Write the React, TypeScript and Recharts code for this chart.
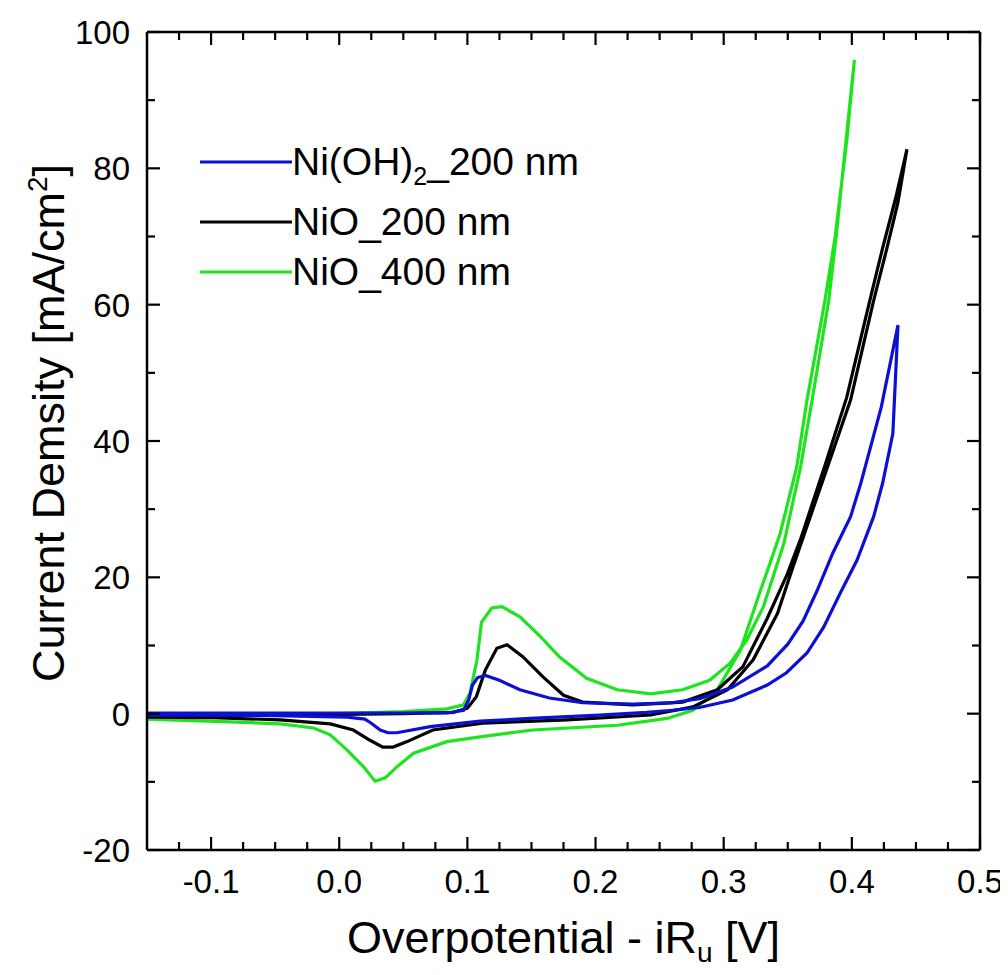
import React from 'react';
import { LineChart, Line, XAxis, YAxis, Legend, Label } from 'recharts';

const FONT = '"Liberation Sans", Arial, Helvetica, sans-serif';

// ---- Data (overpotential V, current density mA/cm2) ----
// Ni(OH)2_200 nm : forward (anodic) then backward scan
const blueFwdV = [-0.15, -0.1, -0.05, 0.0, 0.05, 0.084, 0.097, 0.101, 0.104, 0.108, 0.114, 0.125, 0.141, 0.164, 0.19, 0.229, 0.26, 0.281, 0.307, 0.334, 0.35, 0.362, 0.373, 0.385, 0.399, 0.407, 0.414, 0.423, 0.436];
const blueFwdJ = [0.1, 0.1, 0.1, 0.1, 0.1, 0.1, 0.5, 2.0, 4.2, 5.3, 5.6, 4.9, 3.5, 2.3, 1.6, 1.4, 1.6, 2.2, 3.9, 7.0, 10.2, 13.6, 18.1, 23.5, 28.9, 33.8, 38.7, 45, 57];
const blueBwdV = [0.436, 0.432, 0.424, 0.417, 0.404, 0.391, 0.378, 0.365, 0.349, 0.334, 0.307, 0.281, 0.26, 0.24, 0.203, 0.149, 0.11, 0.071, 0.045, 0.038, 0.032, 0.025, 0.02, 0.006, -0.05, -0.1, -0.15];
const blueBwdJ = [57, 41.1, 33.8, 28.9, 22.5, 17.7, 12.7, 8.9, 6.0, 4.2, 2.0, 0.9, 0.5, 0.2, -0.2, -0.7, -1.1, -1.9, -2.8, -2.8, -2.4, -1.4, -0.8, -0.5, -0.3, -0.2, -0.2];

// NiO_200 nm
const blackFwdV = [-0.15, -0.1, -0.05, 0.0, 0.05, 0.089, 0.1, 0.107, 0.114, 0.123, 0.131, 0.143, 0.159, 0.175, 0.19, 0.229, 0.268, 0.295, 0.315, 0.334, 0.349, 0.36, 0.379, 0.396, 0.414, 0.424, 0.434, 0.443];
const blackFwdJ = [-0.3, -0.3, -0.2, -0.1, 0.0, 0.2, 0.8, 2.5, 6.4, 9.6, 10.1, 8.4, 5.4, 2.7, 1.7, 1.3, 1.7, 3.5, 6.9, 14.0, 20.2, 25.6, 36.4, 46.4, 60.6, 68.3, 75.5, 82.8];
const blackBwdV = [0.443, 0.436, 0.427, 0.417, 0.399, 0.381, 0.363, 0.354, 0.342, 0.323, 0.303, 0.276, 0.243, 0.178, 0.112, 0.073, 0.053, 0.042, 0.034, 0.024, 0.011, -0.007, -0.046, -0.098, -0.15];
const blackBwdJ = [82.8, 75, 68, 60.6, 46, 36.2, 26.4, 21.5, 14.7, 7.9, 3.5, 1.0, -0.2, -0.9, -1.4, -2.4, -4.1, -4.9, -4.9, -3.9, -2.4, -1.5, -0.9, -0.6, -0.5];

// NiO_400 nm
const greenFwdV = [-0.15, -0.1, -0.05, 0.0, 0.05, 0.084, 0.097, 0.102, 0.1075, 0.111, 0.119, 0.127, 0.141, 0.157, 0.172, 0.193, 0.217, 0.243, 0.268, 0.289, 0.305, 0.318, 0.331, 0.347, 0.36, 0.369, 0.382, 0.388, 0.396, 0.402];
const greenFwdJ = [-0.4, -0.3, -0.2, 0.0, 0.3, 0.7, 1.3, 3.0, 7.9, 13.4, 15.5, 15.7, 14.2, 11.3, 8.3, 5.2, 3.5, 2.9, 3.5, 4.9, 7.4, 10.8, 15.7, 25, 36.2, 46, 60.6, 70.4, 85.1, 95.9];
const greenBwdV = [0.402, 0.396, 0.387, 0.379, 0.365, 0.357, 0.344, 0.336, 0.328, 0.313, 0.295, 0.276, 0.256, 0.217, 0.151, 0.11, 0.084, 0.058, 0.045, 0.036, 0.028, 0.019, 0.006, -0.007, -0.02, -0.046, -0.085, -0.15];
const greenBwdJ = [95.9, 84, 70, 60.6, 46, 36.2, 26.4, 22, 17.7, 9.3, 3.5, 0.5, -0.7, -1.7, -2.4, -3.4, -4.1, -5.8, -7.8, -9.4, -9.9, -7.8, -5.3, -3.1, -2.1, -1.5, -1.2, -0.8];

// ---- Ticks ----
const xMajorTicks = [-0.1, 0.0, 0.1, 0.2, 0.3, 0.4, 0.5];
const xMinorTicks = [-0.125, -0.075, -0.05, -0.025, 0.025, 0.05, 0.075, 0.125, 0.15, 0.175, 0.225, 0.25, 0.275, 0.325, 0.35, 0.375, 0.425, 0.45, 0.475];
const yMajorTicks = [-20, 0, 20, 40, 60, 80, 100];
const yMinorTicks = [-10, 10, 30, 50, 70, 90];

// ---- Legend ----
const legendMain = ['Ni(OH)', 'NiO_200 nm', 'NiO_400 nm'];
const legendSub = ['2', '', ''];
const legendRest = ['_200 nm', '', ''];
const colors = ['#0c10d2', '#000000', '#1ee41e'];

const build = (v1: number[], j1: number[], v2: number[], j2: number[]) =>
  [...v1.map((v, i) => ({ v, j: j1[i] })), ...v2.map((v, i) => ({ v, j: j2[i] }))];

const blueData = build(blueFwdV, blueFwdJ, blueBwdV, blueBwdJ);
const blackData = build(blackFwdV, blackFwdJ, blackBwdV, blackBwdJ);
const greenData = build(greenFwdV, greenFwdJ, greenBwdV, greenBwdJ);

const xTicks = [...xMajorTicks, ...xMinorTicks].sort((a, b) => a - b);
const yTicks = [...yMajorTicks, ...yMinorTicks].sort((a, b) => a - b);
const isMajor = (val: number, arr: number[]) => arr.some((m) => Math.abs(m - val) < 1e-6);

const MAJ = 13;
const MIN = 8;
const TICK_FS = 33;
const TITLE_FS = 45;
const LEGEND_FS = 39;
const AXIS_W = 2.5;
const LINE_W = 3.2;

const XBottomTick = (props: any) => {
  const { x, y, payload } = props;
  const major = isMajor(payload.value, xMajorTicks);
  return (
    <g>
      <line x1={x} x2={x} y1={y} y2={y - (major ? MAJ : MIN)} stroke="#000" strokeWidth={2.2} />
      {major && (
        <text x={x} y={y + 43} textAnchor="middle" fontSize={TICK_FS} fontFamily={FONT} fill="#000">
          {payload.value.toFixed(1)}
        </text>
      )}
    </g>
  );
};

const XTopTick = (props: any) => {
  const { x, y, payload } = props;
  const major = isMajor(payload.value, xMajorTicks);
  return <line x1={x} x2={x} y1={y} y2={y + (major ? MAJ : MIN)} stroke="#000" strokeWidth={2.2} />;
};

const YLeftTick = (props: any) => {
  const { x, y, payload } = props;
  const major = isMajor(payload.value, yMajorTicks);
  return (
    <g>
      <line x1={x} x2={x + (major ? MAJ : MIN)} y1={y} y2={y} stroke="#000" strokeWidth={2.2} />
      {major && (
        <text x={x - 17} y={y + 12} textAnchor="end" fontSize={TICK_FS} fontFamily={FONT} fill="#000">
          {String(payload.value)}
        </text>
      )}
    </g>
  );
};

const YRightTick = (props: any) => {
  const { x, y, payload } = props;
  const major = isMajor(payload.value, yMajorTicks);
  return <line x1={x} x2={x - (major ? MAJ : MIN)} y1={y} y2={y} stroke="#000" strokeWidth={2.2} />;
};

const XTitle = (props: any) => {
  const { viewBox } = props;
  const cx = viewBox.x + viewBox.width / 2;
  const y = viewBox.y + 103;
  return (
    <text x={cx} y={y} textAnchor="middle" fontSize={TITLE_FS} fontFamily={FONT} fill="#000">
      Overpotential - iR
      <tspan dy={9} fontSize={28}>u</tspan>
      <tspan dy={-9}> [V]</tspan>
    </text>
  );
};

const YTitle = (props: any) => {
  const { viewBox } = props;
  const cy = viewBox.y + viewBox.height / 2 - 18;
  const x = 56;
  return (
    <text x={x} y={cy} transform={`rotate(-90, ${x}, ${cy})`} textAnchor="middle" fontSize={TITLE_FS} fontFamily={FONT} fill="#000">
      Current Demsity [mA/cm
      <tspan dy={-17} fontSize={28}>2</tspan>
      <tspan dy={17}>]</tspan>
    </text>
  );
};

const renderLegend = () => (
  <svg width={460} height={170} style={{ overflow: 'visible' }}>
    {legendMain.map((m, i) => {
      const ly = [24, 84, 134][i];
      return (
        <g key={m}>
          <line x1={10} x2={102} y1={ly} y2={ly} stroke={colors[i]} strokeWidth={3} />
          <text x={102} y={ly + 13} fontSize={LEGEND_FS} fontFamily={FONT} fill="#000">
            {m}
            {legendSub[i] && <tspan dy={10} fontSize={25}>{legendSub[i]}</tspan>}
            {legendRest[i] && <tspan dy={-10}>{legendRest[i]}</tspan>}
          </text>
        </g>
      );
    })}
  </svg>
);

export default function App() {
  return (
    <div style={{ width: 1000, height: 960, background: '#fff' }}>
      <LineChart width={1000} height={960} margin={{ top: 23, right: 27, bottom: 0, left: 0 }}>
        <XAxis
          dataKey="v"
          type="number"
          domain={[-0.15, 0.5]}
          allowDataOverflow
          ticks={xTicks}
          interval={0}
          tickSize={0}
          tickMargin={0}
          height={118}
          axisLine={{ stroke: '#000', strokeWidth: AXIS_W }}
          tickLine={false}
          tick={<XBottomTick />}
        >
          <Label content={<XTitle />} />
        </XAxis>
        <XAxis
          xAxisId="top"
          orientation="top"
          dataKey="v"
          type="number"
          domain={[-0.15, 0.5]}
          allowDataOverflow
          ticks={xTicks}
          interval={0}
          tickSize={0}
          tickMargin={0}
          height={1}
          axisLine={{ stroke: '#000', strokeWidth: AXIS_W }}
          tickLine={false}
          tick={<XTopTick />}
        />
        <YAxis
          type="number"
          domain={[-20, 100]}
          allowDataOverflow
          ticks={yTicks}
          interval={0}
          tickSize={0}
          tickMargin={0}
          width={139}
          axisLine={{ stroke: '#000', strokeWidth: AXIS_W }}
          tickLine={false}
          tick={<YLeftTick />}
        >
          <Label content={<YTitle />} />
        </YAxis>
        <YAxis
          yAxisId="right"
          orientation="right"
          type="number"
          domain={[-20, 100]}
          allowDataOverflow
          ticks={yTicks}
          interval={0}
          tickSize={0}
          tickMargin={0}
          width={1}
          axisLine={{ stroke: '#000', strokeWidth: AXIS_W }}
          tickLine={false}
          tick={<YRightTick />}
        />
        <Line data={greenData} dataKey="j" type="linear" stroke={colors[2]} strokeWidth={LINE_W} dot={false} isAnimationActive={false} />
        <Line data={blackData} dataKey="j" type="linear" stroke={colors[1]} strokeWidth={LINE_W} dot={false} isAnimationActive={false} />
        <Line data={blueData} dataKey="j" type="linear" stroke={colors[0]} strokeWidth={LINE_W} dot={false} isAnimationActive={false} />
        <Legend
          layout="horizontal"
          verticalAlign="middle"
          align="center"
          content={renderLegend}
          wrapperStyle={{ left: 182, top: 130, width: 460 }}
        />
      </LineChart>
    </div>
  );
}
